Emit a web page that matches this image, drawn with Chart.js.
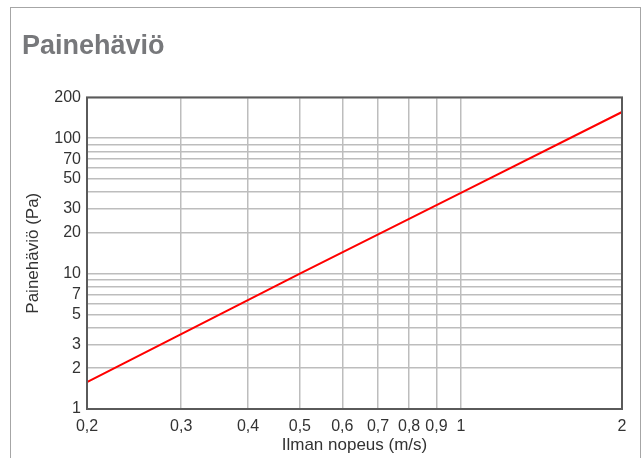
<!DOCTYPE html>
<html>
<head>
<meta charset="utf-8">
<script src="https://cdn.jsdelivr.net/npm/chart.js@4/dist/chart.umd.min.js"></script>
<style>
  body { margin: 0; background: #fff; overflow: hidden; }
  .frame { position: absolute; left: 10px; top: 7px; width: 631px; height: 500px; box-sizing: border-box; border: 1px solid #a6a6a6; }
  canvas { position: absolute; left: 0; top: 0; }
</style>
</head>
<body>
<div class="frame"></div>
<canvas id="chart" width="641" height="458"></canvas>
<script>
// air speed (m/s) and pressure drop (Pa)
const speeds = [0.2, 0.5, 1, 2];
const pressureDrop = [1.58, 10, 39.5, 156];

const xTicks = [0.2, 0.3, 0.4, 0.5, 0.6, 0.7, 0.8, 0.9, 1, 2];
const yTicks = [1, 2, 3, 4, 5, 6, 7, 8, 9, 10, 20, 30, 40, 50, 60, 70, 80, 90, 100, 200];
const yLabels = [1, 2, 3, 5, 7, 10, 20, 30, 50, 70, 100, 200];

Chart.defaults.font.family = 'Arial, "Liberation Sans", sans-serif';
Chart.defaults.color = '#333';

// dark frame round the plot area
const framePlugin = {
  id: 'frame',
  afterDatasetsDraw(chart) {
    const { ctx, chartArea } = chart;
    ctx.save();
    ctx.strokeStyle = '#5a5a5a';
    ctx.lineWidth = 2;
    ctx.strokeRect(chartArea.left, chartArea.top, chartArea.right - chartArea.left, chartArea.bottom - chartArea.top);
    ctx.restore();
  },
};

new Chart(document.getElementById('chart'), {
  type: 'line',
  data: {
    datasets: [{
      data: speeds.map((s, i) => ({ x: s, y: pressureDrop[i] })),
      borderColor: '#ff0000',
      borderWidth: 2,
      pointRadius: 0,
      tension: 0,
    }],
  },
  options: {
    responsive: false,
    animation: false,
    layout: { padding: { left: 22, right: 19, top: 10, bottom: 2 } },
    plugins: {
      legend: { display: false },
      tooltip: { enabled: false },
      title: {
        display: true,
        text: 'Painehäviö',
        align: 'start',
        color: '#77787b',
        font: { size: 27, weight: 'bold' },
        padding: { top: 20, bottom: 35 },
      },
    },
    scales: {
      x: {
        type: 'logarithmic',
        min: 0.2,
        max: 2,
        afterBuildTicks: (scale) => { scale.ticks = xTicks.map(v => ({ value: v })); },
        afterFit: (scale) => { scale.height = 47; },
        ticks: {
          autoSkip: false,
          maxRotation: 0,
          padding: 8,
          font: { size: 16 },
          callback: (v) => String(v).replace('.', ','),
        },
        grid: { color: '#bdbdbd', lineWidth: 1.5, drawTicks: false },
        border: { display: false },
        title: { display: true, text: 'Ilman nopeus (m/s)', font: { size: 17 }, padding: { top: 0, bottom: 0 } },
      },
      y: {
        type: 'logarithmic',
        min: 1,
        max: 200,
        afterBuildTicks: (scale) => { scale.ticks = yTicks.map(v => ({ value: v })); },
        afterFit: (scale) => { scale.width = 65; },
        ticks: {
          autoSkip: false,
          padding: 6,
          font: { size: 16 },
          callback: (v) => (yLabels.includes(v) ? String(v) : ''),
        },
        grid: { color: '#bdbdbd', lineWidth: 1.5, drawTicks: false },
        border: { display: false },
        title: { display: true, text: 'Painehäviö (Pa)', font: { size: 17 }, padding: { top: 1, bottom: 4 } },
      },
    },
  },
  plugins: [framePlugin],
});
</script>
</body>
</html>
